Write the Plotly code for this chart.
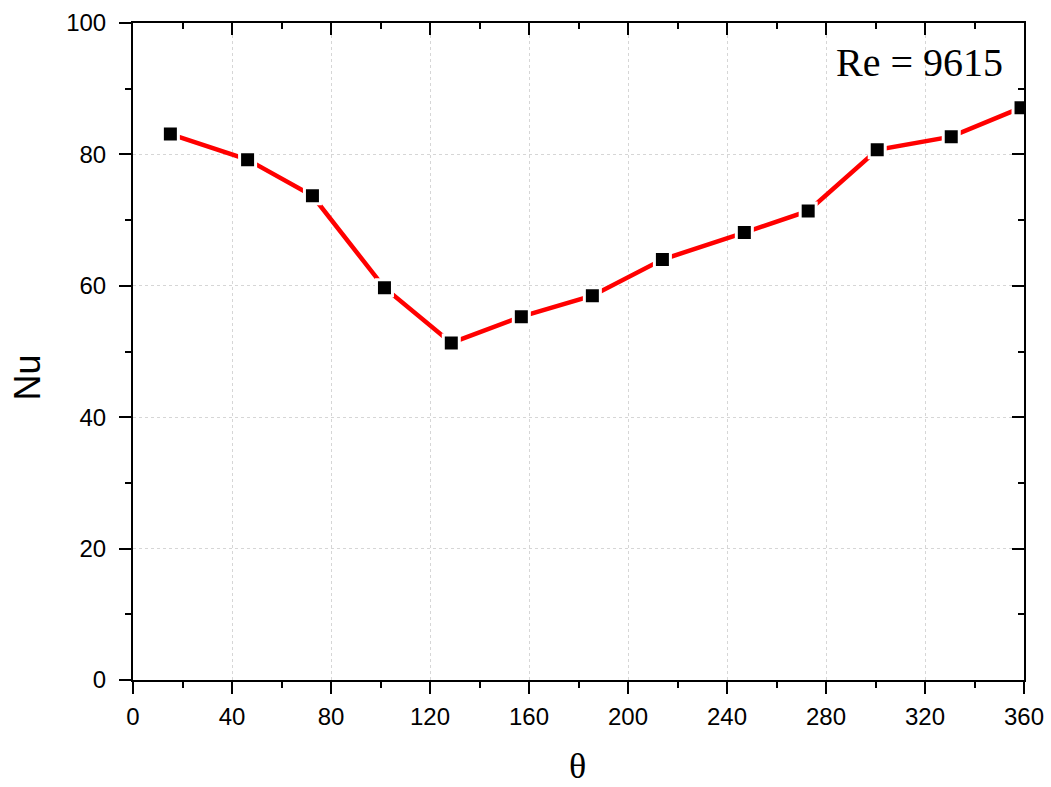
import plotly.graph_objects as go

theta = [15.1, 46.3, 72.5, 101.6, 128.6, 156.9, 185.6, 213.9, 247.0, 272.8, 300.7, 330.6, 358.8]
nu = [83.1, 79.2, 73.7, 59.7, 51.3, 55.3, 58.5, 64.0, 68.1, 71.4, 80.7, 82.7, 87.1]

x_ticks = [0, 40, 80, 120, 160, 200, 240, 280, 320, 360]
y_ticks = [0, 20, 40, 60, 80, 100]

fig = go.Figure()
fig.add_trace(go.Scatter(
    x=theta, y=nu, mode="lines+markers",
    line=dict(color="#ff0000", width=4.5),
    marker=dict(symbol="square", size=16, color="black", line=dict(color="white", width=3)),
    cliponaxis=True, showlegend=False,
))
# helper trace for the mirrored (top/right) axes
fig.add_trace(go.Scatter(
    x=theta, y=nu, xaxis="x2", yaxis="y2", mode="markers",
    marker=dict(opacity=0), hoverinfo="skip", showlegend=False,
))

tickfont = dict(family="Liberation Sans, Arial", size=24, color="black")
common = dict(showline=True, linecolor="black", linewidth=2, tickwidth=2, tickcolor="black",
              zeroline=False, tickfont=tickfont, automargin=False)

fig.update_layout(
    width=1051, height=787,
    margin=dict(l=133, r=27, t=23, b=107),
    plot_bgcolor="white", paper_bgcolor="white",
    xaxis=dict(range=[0, 360], tickvals=x_ticks, ticks="outside", ticklen=12,
               showgrid=True, gridcolor="#d6d6d6", griddash="dot", gridwidth=1,
               minor=dict(ticks="outside", ticklen=6, dtick=20, tick0=0, tickwidth=2,
                          tickcolor="black", showgrid=False),
               ticklabelstandoff=2,
               **common),
    yaxis=dict(range=[0, 100], tickvals=y_ticks, ticks="outside", ticklen=12,
               showgrid=True, gridcolor="#d6d6d6", griddash="dot", gridwidth=1,
               minor=dict(ticks="outside", ticklen=6, dtick=10, tick0=0, tickwidth=2,
                          tickcolor="black", showgrid=False),
               ticklabelstandoff=8,
               **common),
    xaxis2=dict(range=[0, 360], overlaying="x", side="top", anchor="y", tickvals=x_ticks,
                ticks="inside", ticklen=12, showticklabels=False, showgrid=False,
                minor=dict(ticks="inside", ticklen=6, dtick=20, tick0=0, tickwidth=2, tickcolor="black"),
                **common),
    yaxis2=dict(range=[0, 100], overlaying="y", side="right", anchor="x", tickvals=y_ticks,
                ticks="inside", ticklen=12, showticklabels=False, showgrid=False,
                minor=dict(ticks="inside", ticklen=6, dtick=10, tick0=0, tickwidth=2, tickcolor="black"),
                **common),
    annotations=[
        dict(text="Re = 9615", xref="paper", yref="paper", x=0.979, y=0.9406,
             xanchor="right", yanchor="middle", showarrow=False,
             font=dict(family="Liberation Serif, Times New Roman", size=40, color="black")),
        dict(text="Nu", xref="paper", yref="paper", x=-0.1186, y=0.461, textangle=-90,
             xanchor="center", yanchor="middle", showarrow=False,
             font=dict(family="Liberation Sans, Arial", size=36, color="black")),
        dict(text="θ", xref="paper", yref="paper", x=0.4987, y=-0.131,
             xanchor="center", yanchor="middle", showarrow=False,
             font=dict(family="Liberation Serif, Times New Roman", size=36, color="black")),
    ],
)

fig.write_html("out.html")
